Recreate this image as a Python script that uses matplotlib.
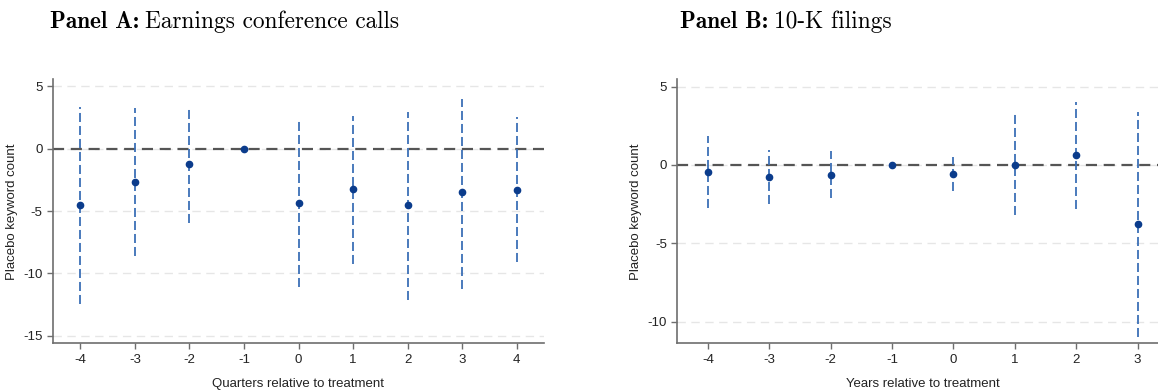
import numpy as np
import matplotlib
matplotlib.use("Agg")
import matplotlib.pyplot as plt

plt.rcParams["font.family"] = ["Liberation Sans", "DejaVu Sans"]
plt.rcParams["axes.unicode_minus"] = False

# Panel A: earnings conference calls (quarters)
qtr = [-4, -3, -2, -1, 0, 1, 2, 3, 4]
qtr_coef = [-4.54, -2.65, -1.25, 0.0, -4.38, -3.21, -4.49, -3.47, -3.29]
qtr_hi = [3.37, 3.29, 3.42, np.nan, 2.36, 2.65, 2.97, 3.99, 2.57]
qtr_lo = [-12.48, -8.58, -5.93, np.nan, -11.07, -9.25, -12.13, -11.23, -9.11]

# Panel B: 10-K filings (years)
yrs = [-4, -3, -2, -1, 0, 1, 2, 3]
yrs_coef = [-0.47, -0.78, -0.64, 0.0, -0.55, 0.02, 0.62, -3.76]
yrs_hi = [1.85, 0.96, 0.89, np.nan, 0.53, 3.29, 4.01, 3.38]
yrs_lo = [-2.72, -2.50, -2.12, np.nan, -1.63, -3.21, -2.78, -10.93]

POINT = "#0b3c8c"
CI = "#3b6fb6"
ZERO = "#555555"
SPINE = "#6e6e6e"
GRID = "#e6e6e6"

W, H = 1158, 391
fig = plt.figure(figsize=(W / 100, H / 100), dpi=100)


def panel(rect, x, coef, lo, hi, yticks, ylim, xlabel, xlim):
    ax = fig.add_axes(rect)
    for t in yticks:
        ax.axhline(t, color=GRID, lw=1.0, ls=(0, (6, 4)), zorder=0)
    ax.axhline(0, color=ZERO, lw=1.6, ls=(0, (5, 3)), zorder=1)
    for xi, l, h in zip(x, lo, hi):
        if np.isnan(l):
            continue
        ax.plot([xi, xi], [l, h], color=CI, lw=1.3, ls=(0, (5, 2.2)), zorder=2)
    ax.plot(x, coef, "o", color=POINT, ms=4.5, zorder=3)
    ax.set_xlim(*xlim)
    ax.set_ylim(*ylim)
    ax.set_xticks(x)
    ax.set_xticklabels([str(v) for v in x])
    ax.set_yticks(yticks)
    ax.set_yticklabels([str(v) for v in yticks])
    for s in ("top", "right"):
        ax.spines[s].set_visible(False)
    for s in ("left", "bottom"):
        ax.spines[s].set_color(SPINE)
        ax.spines[s].set_linewidth(1.2)
    ax.tick_params(colors=SPINE, labelcolor="#222222", labelsize=9.5,
                   length=4, width=1.0)
    ax.set_ylabel("Placebo keyword count", fontsize=9.5, color="#222222",
                  labelpad=4)
    ax.set_xlabel(xlabel, fontsize=9.5, color="#222222", labelpad=9)
    return ax


panel([53 / W, 1 - 343.3 / H, 491 / W, 264 / H], qtr, qtr_coef, qtr_lo, qtr_hi,
      [5, 0, -5, -10, -15], (-15.6, 5.56), "Quarters relative to treatment",
      (-4.5, 4.5))
panel([677.3 / W, 1 - 343.3 / H, 491 / W, 264 / H], yrs, yrs_coef, yrs_lo, yrs_hi,
      [5, 0, -5, -10], (-11.36, 5.46), "Years relative to treatment",
      (-4.5, 3.5))

# panel titles: bold label + roman text in Computer Modern
fig.canvas.draw()
renderer = fig.canvas.get_renderer()
for x0, bold, rest in [(50, "Panel A:", "Earnings conference calls"),
                       (680, "Panel B:", "10-K filings")]:
    t = fig.text(x0 / W, 1 - 22 / H, bold, family="cmb10", fontsize=16.8,
                 va="center", ha="left")
    bb = t.get_window_extent(renderer)
    fig.text((bb.x1 + 6) / W, 1 - 22 / H, rest, family="cmr10", fontsize=16.8,
             va="center", ha="left")

fig.savefig("out.png", dpi=100)
